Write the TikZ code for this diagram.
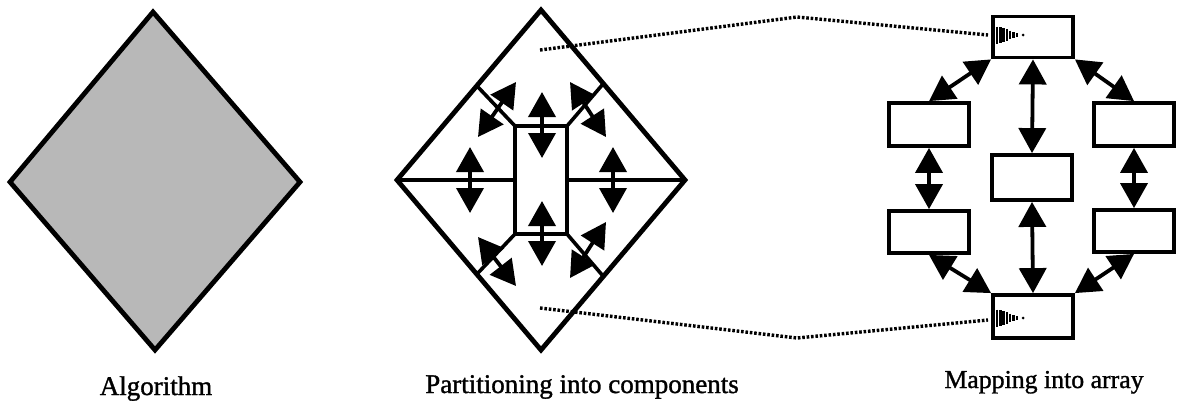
\documentclass[tikz,border=0pt]{standalone}
\usepackage{fontspec}
\setmainfont{Liberation Serif}
\newfontface\lblfont{Liberation Serif}[FakeBold=1.2]
\usetikzlibrary{arrows.meta}
\tikzset{
  dbl/.style={{Triangle[length=25pt,width=27pt]}-{Triangle[length=25pt,width=27pt]}, line width=3.8pt},
  outline/.style={line width=4.8pt, line join=miter},
  part/.style={line width=3.6pt},
  box/.style={draw, line width=3.8pt, minimum width=80pt, minimum height=41pt, inner sep=0pt},
  dots/.style={line width=3.4pt, dash pattern=on 2.6pt off 1.8pt},
  lbl/.style={font=\lblfont\fontsize{27}{30}\selectfont, anchor=base},
  stripe/.style={line width=2.4pt}
}
\newcommand{\tape}[2]{%
  \foreach \i/\h in {0/8.5,1/8,2/7,3/5.8,4/4.4,5/3,6/2}{
    \draw[stripe] ({#1+3.3*\i},{#2-\h}) -- ({#1+3.3*\i},{#2+\h});
  }
  \fill ({#1+26},#2) circle (1.5pt);
}
\begin{document}
\begin{tikzpicture}[x=1pt,y=-1pt]
\useasboundingbox (0,0) rectangle (1182,400);

% ---- Left diamond: algorithm
\coordinate (at) at (153,12);
\coordinate (al) at (10,182);
\coordinate (ab) at (155,350);
\coordinate (ar) at (300,182);
\filldraw[fill=black!28, outline] (at) -- (ar) -- (ab) -- (al) -- cycle;
\node[lbl] (lalg) at (156,395) {Algorithm};

% ---- Middle diamond: partitioning
\coordinate (mt) at (541,10);
\coordinate (ml) at (397,180);
\coordinate (mb) at (541,350);
\coordinate (mr) at (685,180);
\draw[outline] (mt) -- (mr) -- (mb) -- (ml) -- cycle;
\coordinate (rtl) at (515,126);
\coordinate (rtr) at (567,126);
\coordinate (rbl) at (515,234);
\coordinate (rbr) at (567,234);
\draw[part] (rtl) rectangle (rbr);
\draw[part] (ml) -- (515,180);
\draw[part] (567,180) -- (mr);
\draw[part] (477,86) -- (rtl);
\draw[part] (603,84) -- (rtr);
\draw[part] (477,274) -- (rbl);
\draw[part] (603,276) -- (rbr);
% arrows
\coordinate (a1s) at (542,92);  \coordinate (a1e) at (542,158);
\coordinate (a2s) at (542,201); \coordinate (a2e) at (542,266);
\coordinate (a3s) at (470,147); \coordinate (a3e) at (470,213);
\coordinate (a4s) at (613,147); \coordinate (a4e) at (613,213);
\coordinate (a5s) at (516,82);  \coordinate (a5e) at (478,137);
\coordinate (a6s) at (570,82);  \coordinate (a6e) at (606,137);
\coordinate (a7s) at (478,237); \coordinate (a7e) at (516,286);
\coordinate (a8s) at (606,222); \coordinate (a8e) at (570,278);
\foreach \k in {1,...,8}{ \draw[dbl] (a\k s) -- (a\k e); }
\node[lbl] (lpart) at (582,393) {Partitioning into components};

% ---- Right: mapping into array
\node[box] (T)  at (1033,37)  {};
\node[box, minimum height=43pt] (L1) at (929,124.5) {};
\node[box, minimum height=42pt] (L2) at (929,232) {};
\node[box, minimum height=45pt] (C)  at (1032,177.5) {};
\node[box, minimum height=43pt] (R1) at (1134,124.5) {};
\node[box, minimum height=42pt] (R2) at (1134,231) {};
\node[box, minimum height=43pt] (B)  at (1033,316.5) {};
\tape{997}{35}
\tape{997}{318}
\draw[dbl] (T.south west) -- (L1.north);
\draw[dbl] (T.south east) -- (R1.north);
\draw[dbl] (T.south) -- (C.north);
\draw[dbl] (C.south) -- (B.north);
\draw[dbl] (L1.south) -- (L2.north);
\draw[dbl] (R1.south) -- (R2.north);
\draw[dbl] (L2.south) -- (B.north west);
\draw[dbl] (R2.south) -- (B.north east);
\node[lbl, font=\lblfont\fontsize{25.8}{30}\selectfont] (lmap) at (1044,388) {Mapping into array};

% ---- dotted zoom lines
\coordinate (dt) at (797,17);
\coordinate (db) at (797,338);
\draw[dots] (540,50) -- (dt) -- (988,35);
\draw[dots] (540,308) -- (db) -- (988,320);
\end{tikzpicture}
\end{document}
